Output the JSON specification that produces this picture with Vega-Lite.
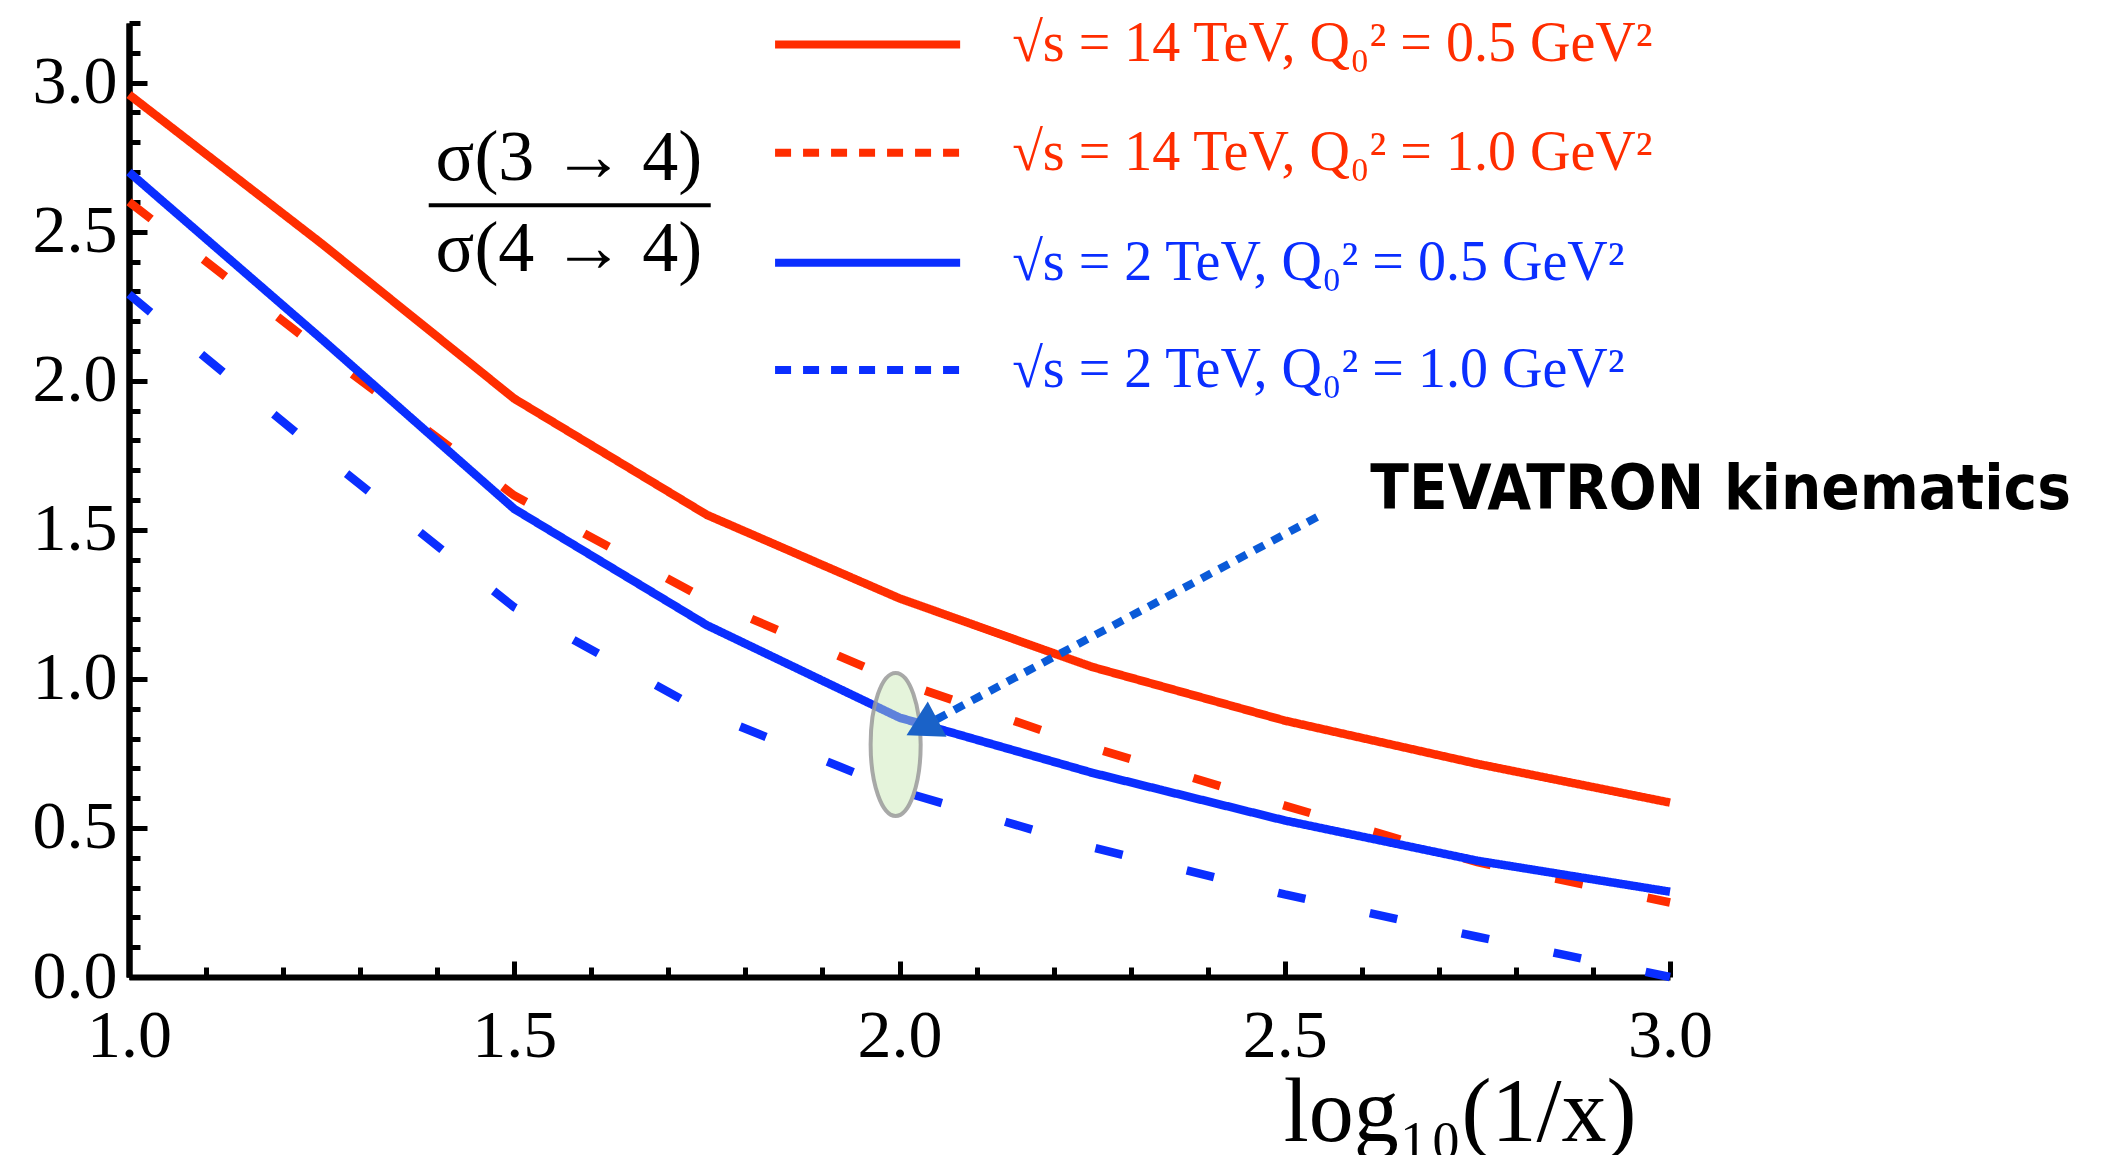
{
  "$schema": "https://vega.github.io/schema/vega-lite/v6.json",
  "width": 1541,
  "height": 954,
  "autosize": {"type": "none"},
  "padding": {"left": 129, "top": 23, "right": 433, "bottom": 178},
  "background": "white",
  "config": {"view": {"stroke": null}},
  "resolve": {"axis": {"y": "independent"}},
  "datasets": {
    "curves": [
      {"series": "√s = 14 TeV, Q₀² =  0.5 GeV²", "x": 1.0, "y": 2.96},
      {"series": "√s = 14 TeV, Q₀² =  0.5 GeV²", "x": 1.25, "y": 2.46},
      {"series": "√s = 14 TeV, Q₀² =  0.5 GeV²", "x": 1.5, "y": 1.94},
      {"series": "√s = 14 TeV, Q₀² =  0.5 GeV²", "x": 1.75, "y": 1.55},
      {"series": "√s = 14 TeV, Q₀² =  0.5 GeV²", "x": 2.0, "y": 1.27},
      {"series": "√s = 14 TeV, Q₀² =  0.5 GeV²", "x": 2.25, "y": 1.04},
      {"series": "√s = 14 TeV, Q₀² =  0.5 GeV²", "x": 2.5, "y": 0.86},
      {"series": "√s = 14 TeV, Q₀² =  0.5 GeV²", "x": 2.75, "y": 0.715},
      {"series": "√s = 14 TeV, Q₀² =  0.5 GeV²", "x": 3.0, "y": 0.585},
      {"series": "√s = 14 TeV, Q₀² =  1.0 GeV²", "x": 1.0, "y": 2.6},
      {"series": "√s = 14 TeV, Q₀² =  1.0 GeV²", "x": 1.25, "y": 2.1},
      {"series": "√s = 14 TeV, Q₀² =  1.0 GeV²", "x": 1.5, "y": 1.615},
      {"series": "√s = 14 TeV, Q₀² =  1.0 GeV²", "x": 1.75, "y": 1.265},
      {"series": "√s = 14 TeV, Q₀² =  1.0 GeV²", "x": 2.0, "y": 0.99},
      {"series": "√s = 14 TeV, Q₀² =  1.0 GeV²", "x": 2.25, "y": 0.77},
      {"series": "√s = 14 TeV, Q₀² =  1.0 GeV²", "x": 2.5, "y": 0.575},
      {"series": "√s = 14 TeV, Q₀² =  1.0 GeV²", "x": 2.75, "y": 0.385},
      {"series": "√s = 14 TeV, Q₀² =  1.0 GeV²", "x": 3.0, "y": 0.25},
      {"series": "√s = 2 TeV, Q₀² =  0.5 GeV²", "x": 1.0, "y": 2.7},
      {"series": "√s = 2 TeV, Q₀² =  0.5 GeV²", "x": 1.25, "y": 2.14},
      {"series": "√s = 2 TeV, Q₀² =  0.5 GeV²", "x": 1.5, "y": 1.57},
      {"series": "√s = 2 TeV, Q₀² =  0.5 GeV²", "x": 1.75, "y": 1.18},
      {"series": "√s = 2 TeV, Q₀² =  0.5 GeV²", "x": 2.0, "y": 0.87},
      {"series": "√s = 2 TeV, Q₀² =  0.5 GeV²", "x": 2.25, "y": 0.685},
      {"series": "√s = 2 TeV, Q₀² =  0.5 GeV²", "x": 2.5, "y": 0.525},
      {"series": "√s = 2 TeV, Q₀² =  0.5 GeV²", "x": 2.75, "y": 0.39},
      {"series": "√s = 2 TeV, Q₀² =  0.5 GeV²", "x": 3.0, "y": 0.286},
      {"series": "√s = 2 TeV, Q₀² =  1.0 GeV²", "x": 1.0, "y": 2.29},
      {"series": "√s = 2 TeV, Q₀² =  1.0 GeV²", "x": 1.25, "y": 1.755},
      {"series": "√s = 2 TeV, Q₀² =  1.0 GeV²", "x": 1.5, "y": 1.24},
      {"series": "√s = 2 TeV, Q₀² =  1.0 GeV²", "x": 1.75, "y": 0.885},
      {"series": "√s = 2 TeV, Q₀² =  1.0 GeV²", "x": 2.0, "y": 0.625},
      {"series": "√s = 2 TeV, Q₀² =  1.0 GeV²", "x": 2.25, "y": 0.435},
      {"series": "√s = 2 TeV, Q₀² =  1.0 GeV²", "x": 2.5, "y": 0.277},
      {"series": "√s = 2 TeV, Q₀² =  1.0 GeV²", "x": 2.75, "y": 0.135},
      {"series": "√s = 2 TeV, Q₀² =  1.0 GeV²", "x": 3.0, "y": 0.0}
    ],
    "legend": [
      {"series": "√s = 14 TeV, Q₀² =  0.5 GeV²", "x": 1.8385, "x2": 2.0787, "y": 3.128},
      {"series": "√s = 14 TeV, Q₀² =  1.0 GeV²", "x": 1.8385, "x2": 2.0787, "y": 2.765},
      {"series": "√s = 2 TeV, Q₀² =  0.5 GeV²", "x": 1.8385, "x2": 2.0787, "y": 2.396},
      {"series": "√s = 2 TeV, Q₀² =  1.0 GeV²", "x": 1.8385, "x2": 2.0787, "y": 2.036}
    ],
    "fraction": [
      {"text": "σ(3 → 4)", "x": 1.571, "y": 2.746},
      {"text": "σ(4 → 4)", "x": 1.571, "y": 2.441}
    ],
    "bar": [{"x": 1.389, "x2": 1.755, "y": 2.589}],
    "label": [{"text": "TEVATRON  kinematics", "x": 2.611, "y": 1.633}],
    "arrow": [{"x": 2.542, "y": 1.543, "x2": 2.029, "y2": 0.838}],
    "ellipse": [{"x": 1.995, "y": 0.78}]
  },
  "layer": [
    {
      "data": {"name": "bar"},
      "mark": {"type": "rule", "strokeWidth": 4, "color": "black"},
      "encoding": {
        "x": {
          "field": "x", "type": "quantitative",
          "scale": {"domain": [1, 3], "nice": false, "zero": false},
          "axis": {
            "title": "log₁₀(1/x)",
            "values": [1, 1.1, 1.2, 1.3, 1.4, 1.5, 1.6, 1.7, 1.8, 1.9, 2, 2.1, 2.2, 2.3, 2.4, 2.5, 2.6, 2.7, 2.8, 2.9, 3],
            "labelExpr": "abs(datum.value*2 - round(datum.value*2)) < 0.001 ? format(datum.value, '.1f') : ''",
            "tickSize": {"condition": {"test": "abs(datum.value*2 - round(datum.value*2)) < 0.001", "value": -16}, "value": -10},
            "tickWidth": 5, "tickColor": "black",
            "domainColor": "black", "domainWidth": 6,
            "grid": false,
            "labelFont": "Liberation Serif", "labelFontSize": 68, "labelColor": "black",
            "labelPadding": 41, "labelFlush": false, "labelOverlap": false,
            "titleFont": "Liberation Serif", "titleFontSize": 90, "titleFontWeight": "normal", "titleColor": "black",
            "titleAnchor": "end", "titleAlign": "right", "titleBaseline": "alphabetic",
            "titleX": 1507, "titleY": 163
          }
        },
        "x2": {"field": "x2"},
        "y": {
          "field": "y", "type": "quantitative",
          "scale": {"domain": [0, 3.2], "nice": false, "zero": false},
          "axis": {
            "orient": "left",
            "title": null,
            "values": [0, 0.1, 0.2, 0.3, 0.4, 0.5, 0.6, 0.7, 0.8, 0.9, 1, 1.1, 1.2, 1.3, 1.4, 1.5, 1.6, 1.7, 1.8, 1.9, 2, 2.1, 2.2, 2.3, 2.4, 2.5, 2.6, 2.7, 2.8, 2.9, 3, 3.1, 3.2],
            "labels": false,
            "tickSize": -11,
            "tickWidth": 5, "tickColor": "black",
            "domainColor": "black", "domainWidth": 6,
            "grid": false
          }
        }
      }
    },
    {
      "data": {"name": "curves"},
      "mark": {"type": "line", "strokeWidth": 8.5},
      "encoding": {
        "x": {"field": "x", "type": "quantitative"},
        "y": {
          "field": "y", "type": "quantitative",
          "axis": {
            "orient": "left",
            "title": null,
            "values": [0, 0.5, 1, 1.5, 2, 2.5, 3],
            "format": ".1f",
            "tickSize": -18,
            "tickWidth": 5, "tickColor": "black",
            "domainColor": "black", "domainWidth": 6,
            "grid": false,
            "labelFont": "Liberation Serif", "labelFontSize": 68, "labelColor": "black",
            "labelPadding": 30, "labelFlush": false, "labelOverlap": false
          }
        },
        "color": {
          "field": "series", "type": "nominal",
          "scale": {
            "domain": ["√s = 14 TeV, Q₀² =  0.5 GeV²", "√s = 14 TeV, Q₀² =  1.0 GeV²", "√s = 2 TeV, Q₀² =  0.5 GeV²", "√s = 2 TeV, Q₀² =  1.0 GeV²"],
            "range": ["#ff2d00", "#ff2d00", "#0a2eff", "#0a2eff"]
          },
          "legend": null
        },
        "strokeDash": {
          "field": "series", "type": "nominal",
          "scale": {
            "domain": ["√s = 14 TeV, Q₀² =  0.5 GeV²", "√s = 14 TeV, Q₀² =  1.0 GeV²", "√s = 2 TeV, Q₀² =  0.5 GeV²", "√s = 2 TeV, Q₀² =  1.0 GeV²"],
            "range": [[1, 0], [28, 66], [1, 0], [28, 66]]
          },
          "legend": null
        }
      }
    },
    {
      "data": {"name": "legend"},
      "transform": [{"filter": {"field": "series", "oneOf": ["√s = 14 TeV, Q₀² =  0.5 GeV²", "√s = 2 TeV, Q₀² =  0.5 GeV²"]}}],
      "mark": {"type": "rule", "strokeWidth": 8},
      "encoding": {
        "x": {"field": "x", "type": "quantitative"},
        "x2": {"field": "x2"},
        "y": {"field": "y", "type": "quantitative", "axis": null},
        "color": {"field": "series", "type": "nominal", "legend": null}
      }
    },
    {
      "data": {"name": "legend"},
      "transform": [{"filter": {"field": "series", "oneOf": ["√s = 14 TeV, Q₀² =  1.0 GeV²", "√s = 2 TeV, Q₀² =  1.0 GeV²"]}}],
      "mark": {"type": "rule", "strokeWidth": 8, "strokeDash": [16, 12]},
      "encoding": {
        "x": {"field": "x", "type": "quantitative"},
        "x2": {"field": "x2"},
        "y": {"field": "y", "type": "quantitative", "axis": null},
        "color": {"field": "series", "type": "nominal", "legend": null}
      }
    },
    {
      "data": {"name": "legend"},
      "mark": {"type": "text", "align": "left", "baseline": "middle", "dx": 52, "font": "Liberation Serif", "fontSize": 56},
      "encoding": {
        "x": {"field": "x2", "type": "quantitative"},
        "y": {"field": "y", "type": "quantitative", "axis": null},
        "text": {"field": "series"},
        "color": {"field": "series", "type": "nominal", "legend": null}
      }
    },
    {
      "data": {"name": "fraction"},
      "mark": {"type": "text", "align": "center", "baseline": "middle", "font": "Liberation Serif", "fontSize": 72, "color": "black"},
      "encoding": {
        "x": {"field": "x", "type": "quantitative"},
        "y": {"field": "y", "type": "quantitative", "axis": null},
        "text": {"field": "text"}
      }
    },
    {
      "data": {"name": "label"},
      "mark": {"type": "text", "align": "left", "baseline": "middle", "font": "DejaVu Sans Condensed", "fontWeight": "bold", "fontSize": 63, "color": "black"},
      "encoding": {
        "x": {"field": "x", "type": "quantitative"},
        "y": {"field": "y", "type": "quantitative", "axis": null},
        "text": {"field": "text"}
      }
    },
    {
      "data": {"name": "ellipse"},
      "mark": {
        "type": "point", "filled": true,
        "shape": "M0,-1 C0.193,-1 0.35,-0.552 0.35,0 C0.35,0.552 0.193,1 0,1 C-0.193,1 -0.35,0.552 -0.35,0 C-0.35,-0.552 -0.193,-1 0,-1 Z",
        "size": 20449, "fill": "#c6e6b0", "fillOpacity": 0.45, "stroke": "#9a9a9a", "strokeWidth": 4, "strokeOpacity": 0.85
      },
      "encoding": {
        "x": {"field": "x", "type": "quantitative"},
        "y": {"field": "y", "type": "quantitative", "axis": null}
      }
    },
    {
      "data": {"name": "arrow"},
      "mark": {"type": "rule", "strokeWidth": 8, "strokeDash": [11, 9], "color": "#0a5ad8"},
      "encoding": {
        "x": {"field": "x", "type": "quantitative"},
        "y": {"field": "y", "type": "quantitative", "axis": null},
        "x2": {"field": "x2"},
        "y2": {"field": "y2"}
      }
    },
    {
      "data": {"name": "arrow"},
      "mark": {"type": "point", "filled": true, "shape": "triangle-up", "angle": 242, "size": 1600, "color": "#1a62c8", "opacity": 1},
      "encoding": {
        "x": {"field": "x2", "type": "quantitative"},
        "y": {"field": "y2", "type": "quantitative", "axis": null}
      }
    }
  ]
}
